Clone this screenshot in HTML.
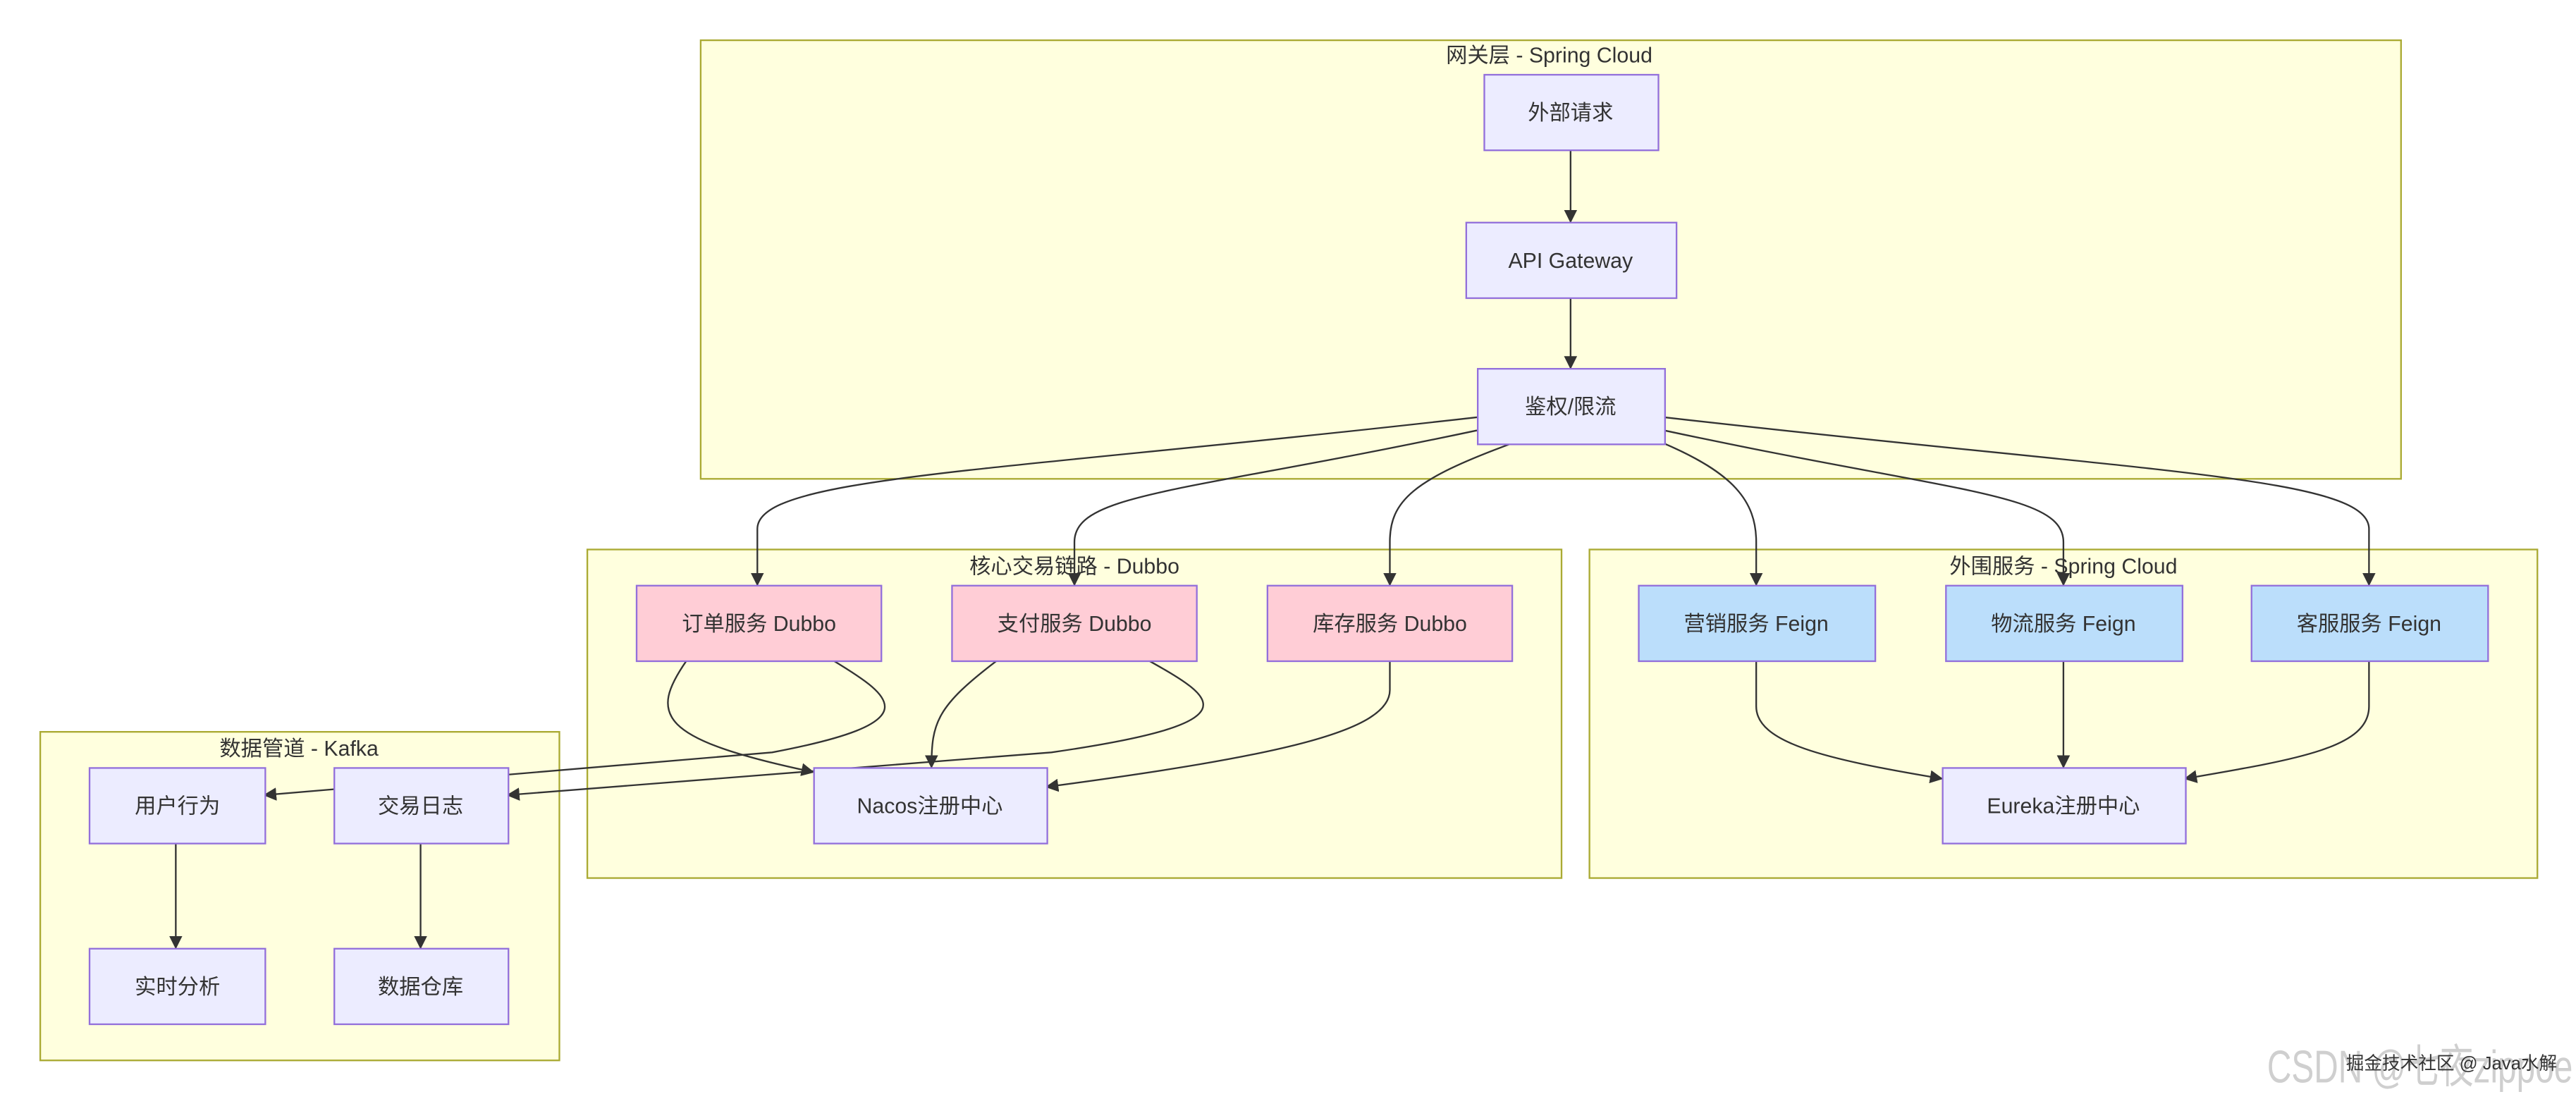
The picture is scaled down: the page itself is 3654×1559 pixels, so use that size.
<!DOCTYPE html>
<html><head><meta charset="utf-8"><style>
html,body{margin:0;padding:0;background:#fff;}
svg{display:block;}
text{font-family:"Liberation Sans","Noto Sans CJK SC",sans-serif;fill:#333;}
</style></head><body>
<svg width="3654" height="1559" viewBox="0 0 1568 669" preserveAspectRatio="none" xmlns="http://www.w3.org/2000/svg">
<defs>
<marker id="a" viewBox="0 0 10 10" refX="9" refY="5" markerWidth="8" markerHeight="8" markerUnits="userSpaceOnUse" orient="auto">
<path d="M0,0 L10,5 L0,10 z" fill="#333"/></marker>
</defs>
<g fill="#ffffde" stroke="#aaaa33" stroke-width="1">
<rect x="426.5" y="24.5" width="1035" height="267"/>
<rect x="357.5" y="334.5" width="593" height="200"/>
<rect x="967.5" y="334.5" width="577" height="200"/>
<rect x="24.5" y="445.5" width="316" height="200"/>
</g>
<g font-size="13" text-anchor="middle">
<text x="943" y="38">网关层 - Spring Cloud</text>
<text x="654" y="349">核心交易链路 - Dubbo</text>
<text x="1256" y="349">外围服务 - Spring Cloud</text>
<text x="182" y="460">数据管道 - Kafka</text>
</g>
<g stroke="#333" stroke-width="1" fill="none" marker-end="url(#a)">
<path d="M956,91 L956,135"/>
<path d="M956,181 L956,224"/>
<path d="M899,254 C600,288 461,290 461,322 L461,356"/>
<path d="M899,262 C720,300 654,300 654,330 L654,356"/>
<path d="M920,270 C860,292 846,305 846,330 L846,356"/>
<path d="M1013,270 C1055,288 1069,305 1069,330 L1069,356"/>
<path d="M1013,262 C1190,300 1256,300 1256,330 L1256,356"/>
<path d="M1013,254 C1310,288 1442,290 1442,322 L1442,356"/>
<path d="M418,402 C395,435 400,450 495,470"/>
<path d="M507,402 C545,425 565,440 470,458 L161,484"/>
<path d="M607,402 C570,430 567,440 567,467"/>
<path d="M699,402 C740,425 765,440 640,458 L309,484"/>
<path d="M846,402 L846,420 C846,445 780,460 637,479"/>
<path d="M1069,402 L1069,430 C1069,452 1110,462 1182,474"/>
<path d="M1256,402 L1256,467"/>
<path d="M1442,402 L1442,430 C1442,455 1400,462 1330,474"/>
<path d="M107,513 L107,577"/>
<path d="M256,513 L256,577"/>
</g>
<g stroke="#9370db" stroke-width="1">
<rect x="903.5" y="45.5" width="106" height="46" fill="#ececff"/>
<rect x="892.5" y="135.5" width="128" height="46" fill="#ececff"/>
<rect x="899.5" y="224.5" width="114" height="46" fill="#ececff"/>
<rect x="387.5" y="356.5" width="149" height="46" fill="#ffcdd6"/>
<rect x="579.5" y="356.5" width="149" height="46" fill="#ffcdd6"/>
<rect x="771.5" y="356.5" width="149" height="46" fill="#ffcdd6"/>
<rect x="495.5" y="467.5" width="142" height="46" fill="#ececff"/>
<rect x="997.5" y="356.5" width="144" height="46" fill="#bbdefb"/>
<rect x="1184.5" y="356.5" width="144" height="46" fill="#bbdefb"/>
<rect x="1370.5" y="356.5" width="144" height="46" fill="#bbdefb"/>
<rect x="1182.5" y="467.5" width="148" height="46" fill="#ececff"/>
<rect x="54.5" y="467.5" width="107" height="46" fill="#ececff"/>
<rect x="203.5" y="467.5" width="106" height="46" fill="#ececff"/>
<rect x="54.5" y="577.5" width="107" height="46" fill="#ececff"/>
<rect x="203.5" y="577.5" width="106" height="46" fill="#ececff"/>
</g>
<g font-size="13" text-anchor="middle">
<text x="956" y="73">外部请求</text>
<text x="956" y="163">API Gateway</text>
<text x="956" y="252">鉴权/限流</text>
<text x="462" y="384">订单服务 Dubbo</text>
<text x="654" y="384">支付服务 Dubbo</text>
<text x="846" y="384">库存服务 Dubbo</text>
<text x="566" y="495">Nacos注册中心</text>
<text x="1069" y="384">营销服务 Feign</text>
<text x="1256" y="384">物流服务 Feign</text>
<text x="1442" y="384">客服服务 Feign</text>
<text x="1256" y="495">Eureka注册中心</text>
<text x="108" y="495">用户行为</text>
<text x="256" y="495">交易日志</text>
<text x="108" y="605">实时分析</text>
<text x="256" y="605">数据仓库</text>
</g>
<text x="1380" y="659" font-size="28" textLength="186" lengthAdjust="spacingAndGlyphs" style="fill:#cfcfcf">CSDN @七夜zippoe</text>
<text x="1428" y="651" font-size="11" style="fill:#333">掘金技术社区 @ Java水解</text>
</svg>
</body></html>
